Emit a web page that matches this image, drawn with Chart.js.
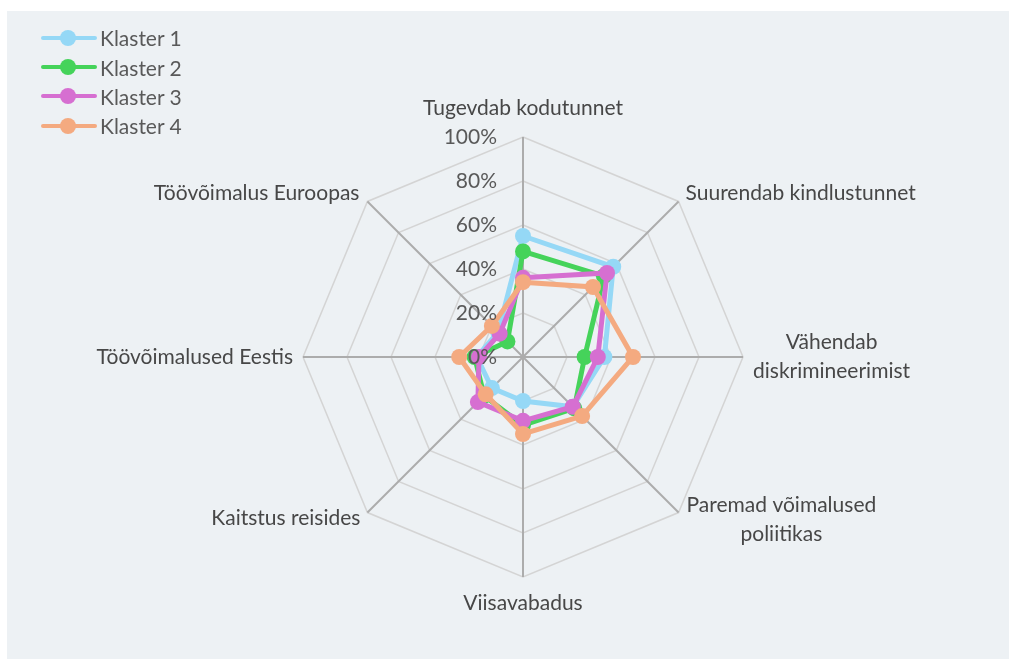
<!DOCTYPE html>
<html>
<head>
<meta charset="utf-8">
<script src="https://cdn.jsdelivr.net/npm/chart.js@4.4.1/dist/chart.umd.min.js"></script>
<style>
  body { margin: 0; background: #fff; width: 1009px; height: 659px; overflow: hidden; font-family: Lato, sans-serif; }
  #paneel { position: absolute; left: 7px; top: 11px; width: 1002px; height: 648px; background: #edf1f4; }
  #legend { position: absolute; left: 34px; top: 12px; }
  .rida { display: flex; align-items: center; height: 29.4px; font-size: 21px; color: #595959; }
  .joon { position: relative; width: 56px; height: 4px; border-radius: 2px; margin-right: 3px; }
  .joon span { position: absolute; left: 19px; top: -6px; width: 16px; height: 16px; border-radius: 50%; }
</style>
</head>
<body>
<div id="paneel">
  <canvas id="myChart" width="1002" height="648"></canvas>
  <div id="legend"></div>
</div>
<script>
// telgede nimed (ülevalt päripäeva)
const kategooriad = [
  'Tugevdab kodutunnet',
  'Suurendab kindlustunnet',
  ['Vähendab', 'diskrimineerimist'],
  ['Paremad võimalused', 'poliitikas'],
  'Viisavabadus',
  'Kaitstus reisides',
  'Töövõimalused Eestis',
  'Töövõimalus Euroopas'
];

const seeriad = ['Klaster 1', 'Klaster 2', 'Klaster 3', 'Klaster 4'];

// väärtused protsentides
const klaster1 = [55, 58, 37, 32, 20, 20, 21, 16];
const klaster2 = [48, 52, 28, 33, 31, 25, 22, 10];
const klaster3 = [36, 54, 34, 32, 29, 29, 20, 15];
const klaster4 = [34, 45, 50, 38, 35, 24, 29, 20];

const skaalaMin = 0;
const skaalaMax = 100;
const skaalaSamm = 20;

const varvid = ['#95d8f6', '#45d35a', '#d66fd1', '#f4aa80'];

// siltide nihked tipu suhtes
const siltideAsend = [
  { dx: 0, dy: -29, align: 'center' },
  { dx: 7, dy: -8, align: 'left' },
  { dx: 10, dy: 0, align: 'block' },
  { dx: 8, dy: 7.5, align: 'block' },
  { dx: 0, dy: 26, align: 'center' },
  { dx: -7, dy: 6, align: 'right' },
  { dx: -10, dy: 0, align: 'right' },
  { dx: -8, dy: -8, align: 'right' }
];

const koikAndmed = [klaster1, klaster2, klaster3, klaster4];

const datasets = seeriad.map((nimi, i) => ({
  label: nimi,
  data: koikAndmed[i],
  borderColor: varvid[i],
  backgroundColor: varvid[i],
  pointBackgroundColor: varvid[i],
  pointBorderWidth: 0,
  pointRadius: 8,
  borderWidth: 5,
  fill: false,
  order: seeriad.length - i
}));

const siltidePlugin = {
  id: 'sildid',
  afterDatasetsDraw(chart) {
    const scale = chart.scales.r;
    const ctx = chart.ctx;
    ctx.save();
    ctx.textBaseline = 'middle';

    // tick labels vasakule teljest
    ctx.font = '21px Lato';
    ctx.fillStyle = '#595959';
    ctx.textAlign = 'right';
    scale.ticks.forEach(t => {
      const d = scale.getDistanceFromCenterForValue(t.value);
      ctx.fillText(t.value + '%', scale.xCenter - 26, scale.yCenter - d);
    });

    // telgede nimed
    ctx.font = '21px Lato';
    ctx.fillStyle = '#474747';
    chart.data.labels.forEach((lbl, i) => {
      const p = scale.getPointPosition(i, scale.drawingArea);
      const a = siltideAsend[i];
      const read = Array.isArray(lbl) ? lbl : [lbl];
      const x = p.x + a.dx;
      const yKesk = p.y + a.dy;
      let xx = x;
      if (a.align === 'block') {
        const laius = Math.max(...read.map(r => ctx.measureText(r).width));
        xx = x + laius / 2;
        ctx.textAlign = 'center';
      } else {
        ctx.textAlign = a.align;
      }
      read.forEach((r, k) => {
        ctx.fillText(r, xx, yKesk + (k - (read.length - 1) / 2) * 29);
      });
    });
    ctx.restore();
  }
};

const config = {
  type: 'radar',
  data: { labels: kategooriad, datasets: datasets },
  options: {
    responsive: false,
    animation: false,
    layout: { padding: { left: 30, right: 0, top: 126, bottom: 82 } },
    elements: { line: { tension: 0 } },
    plugins: { legend: { display: false }, tooltip: { enabled: false } },
    scales: {
      r: {
        min: skaalaMin,
        max: skaalaMax,
        ticks: { stepSize: skaalaSamm, display: false },
        pointLabels: { display: false },
        grid: { color: '#d4d4d4', lineWidth: 1.5 },
        angleLines: { color: '#acacac', lineWidth: 2 }
      }
    }
  },
  plugins: [siltidePlugin]
};

const myChart = new Chart(document.getElementById('myChart'), config);

// legend
const legendDiv = document.getElementById('legend');
seeriad.forEach((nimi, i) => {
  const rida = document.createElement('div');
  rida.className = 'rida';
  rida.innerHTML = '<div class="joon" style="background:' + varvid[i] + '"><span style="background:' + varvid[i] + '"></span></div>' + nimi;
  legendDiv.appendChild(rida);
});
</script>
</body>
</html>
